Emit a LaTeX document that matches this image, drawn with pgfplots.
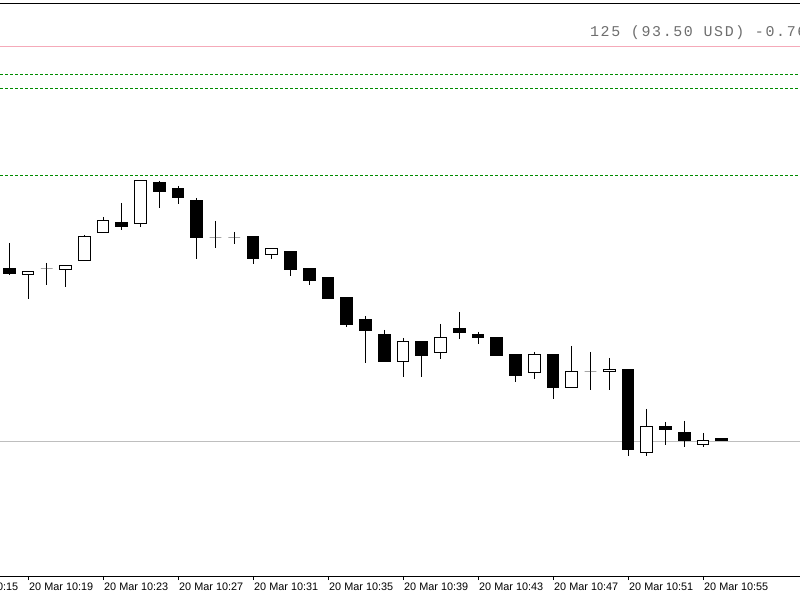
\documentclass[border=0pt]{standalone}
\usepackage{pgfplots}
\pgfplotsset{compat=1.18}
\usepackage{fontspec}
\setmainfont{Liberation Sans}
\newfontfamily\monofont[LetterSpace=11]{Liberation Mono}
\definecolor{pinkline}{RGB}{245,170,185}
\definecolor{greenline}{RGB}{0,140,0}
\definecolor{grayline}{RGB}{190,190,190}
\definecolor{txtgray}{RGB}{110,110,110}
% #1 minute, #2 high (top of wick), #3 body top, #4 body bottom, #5 low, #6 fill
\newcommand\candle[6]{%
  \pgfmathsetmacro\xl{#1-0.31}\pgfmathsetmacro\xr{#1+0.31}%
  \addplot[black, line width=1bp] coordinates {(#1,#2) (#1,#5)};
  \addplot[draw=black, fill=#6, line width=1bp] coordinates {(\xl,#3) (\xr,#3) (\xr,#4) (\xl,#4)} -- cycle;
}
\newcommand\tlab[2]{\node[anchor=north west, inner sep=0pt, xshift=1bp, yshift=-6.5bp,
  font=\fontsize{10.9}{12}\selectfont] at (axis cs:#1,-576) {20 Mar 10:#2};}
\begin{document}
\begin{tikzpicture}
\begin{axis}[
  scale only axis, width=800bp, height=573bp,
  xmin=17.50667, xmax=60.17333, ymin=-576, ymax=-3,
  axis x line*=bottom, axis y line=none,
  axis line style={black, line width=1bp},
  xtick={15,19,23,27,31,35,39,43,47,51,55}, xticklabels={},
  tick align=outside, major tick length=4bp,
  xtick style={black, line width=1bp},
  clip=false,
]
% level lines
\addplot[pinkline, line width=1.2bp] coordinates {(17.50667,-46.5) (60.17333,-46.5)};
\addplot[greenline, line width=1.3bp, dash pattern=on 3bp off 2bp] coordinates {(17.50667,-74.5) (60.17333,-74.5)};
\addplot[greenline, line width=1.3bp, dash pattern=on 3bp off 2bp] coordinates {(17.50667,-88.5) (60.17333,-88.5)};
\addplot[greenline, line width=1.3bp, dash pattern=on 3bp off 2bp] coordinates {(17.50667,-175.2) (60.17333,-175.2)};
\addplot[grayline, line width=1.2bp] coordinates {(17.50667,-441.5) (60.17333,-441.5)};
\addplot[black, line width=1.6bp] coordinates {(17.50667,-3.5) (60.17333,-3.5)};
% candles
\candle{18}{-243}{-269}{-274}{-275}{black}
\candle{19}{-272}{-272}{-275}{-299}{white}
\candle{20}{-263}{-269}{-269}{-285}{white}
\candle{21}{-266}{-266}{-270}{-287}{white}
\candle{22}{-235}{-237}{-261}{-261}{white}
\candle{23}{-217}{-221}{-233}{-233}{white}
\candle{24}{-203}{-223}{-227}{-230}{black}
\candle{25}{-181}{-181}{-224}{-227}{white}
\candle{26}{-181}{-183}{-192}{-208}{black}
\candle{27}{-186}{-189}{-198}{-204}{black}
\candle{28}{-198}{-201}{-238}{-259}{black}
\candle{29}{-221}{-238}{-238}{-248}{white}
\candle{30}{-232}{-238}{-238}{-244}{white}
\candle{31}{-237}{-237}{-259}{-264}{black}
\candle{32}{-249}{-249}{-255}{-259}{white}
\candle{33}{-252}{-252}{-270}{-276}{black}
\candle{34}{-269}{-269}{-281}{-285}{black}
\candle{35}{-278}{-278}{-299}{-299}{black}
\candle{36}{-298}{-298}{-325}{-327}{black}
\candle{37}{-316}{-320}{-331}{-363}{black}
\candle{38}{-330}{-335}{-362}{-362}{black}
\candle{39}{-338}{-342}{-362}{-377}{white}
\candle{40}{-342}{-342}{-356}{-377}{black}
\candle{41}{-324}{-338}{-353}{-359}{white}
\candle{42}{-312}{-329}{-333}{-339}{black}
\candle{43}{-332}{-335}{-338}{-344}{black}
\candle{44}{-338}{-338}{-356}{-356}{black}
\candle{45}{-355}{-355}{-376}{-382}{black}
\candle{46}{-352}{-355}{-373}{-379}{white}
\candle{47}{-355}{-355}{-388}{-399}{black}
\candle{48}{-346}{-372}{-388}{-388}{white}
\candle{49}{-352}{-372}{-372}{-390}{white}
\candle{50}{-358}{-370}{-372}{-390}{white}
\candle{51}{-370}{-370}{-450}{-456}{black}
\candle{52}{-409}{-427}{-453}{-456}{white}
\candle{53}{-422}{-427}{-430}{-445}{black}
\candle{54}{-421}{-433}{-441}{-447}{black}
\candle{55}{-433}{-441}{-445}{-447}{white}
\candle{56}{-439}{-439}{-441}{-441}{black}
% texts
\node[anchor=base west, inner sep=0pt, text=txtgray, font=\monofont\fontsize{15}{16}\selectfont]
  at (axis cs:48.97,-37) {125 (93.50 USD) -0.76\%};
\tlab{15}{15}\tlab{19}{19}\tlab{23}{23}\tlab{27}{27}\tlab{31}{31}\tlab{35}{35}
\tlab{39}{39}\tlab{43}{43}\tlab{47}{47}\tlab{51}{51}\tlab{55}{55}
\coordinate (bbsw) at (axis cs:17.50667,-600);
\coordinate (bbne) at (axis cs:60.17333,0);
\end{axis}
\pgfresetboundingbox
\path[use as bounding box] (bbsw) rectangle (bbne);
\end{tikzpicture}
\end{document}
